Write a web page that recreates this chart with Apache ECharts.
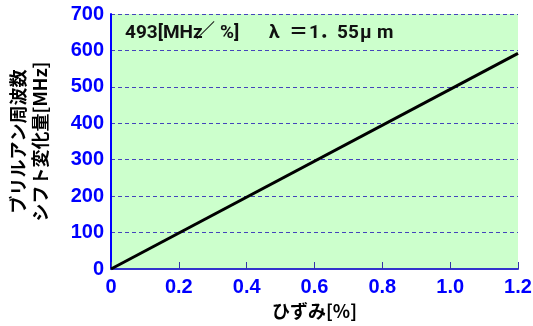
<!DOCTYPE html>
<html><head><meta charset="utf-8">
<script src="https://cdn.jsdelivr.net/npm/echarts@6/dist/echarts.min.js"></script>
<style>html,body{margin:0;padding:0;background:#fff}#c{width:533px;height:326px}</style>
</head><body><div id="c"></div>
<script>
const strain = [0, 1.2];
const shift = [0, 592];
const xTicks = [0, 0.2, 0.4, 0.6, 0.8, 1.0, 1.2];
const yTicks = [0, 100, 200, 300, 400, 500, 600, 700];
const yTitle = 'ブリルアン周波数\nシフト変化量[MHz]';
const xTitle = 'ひずみ[%]';
// annotation pieces: [text, left]
const notePieces = [['493[MHz',125],['／',196],['%]',220],['λ',269],['＝',289],['1',309],['．',319],['55',337],['μ',360],['m',377]];

const chart = echarts.init(document.getElementById('c'));
const lab = {color:'#0000ff', fontWeight:'bold', fontSize:20, fontFamily:'Liberation Sans Narrow, Arial Narrow, sans-serif'};
chart.setOption({
  animation:false,
  grid:{left:111, right:15, top:14, bottom:57, show:true, backgroundColor:'#ccffcc', borderWidth:0, outerBoundsMode:'none', containLabel:false},
  xAxis:{type:'value', min:0, max:1.2, interval:0.2,
    axisLine:{show:true, onZero:false, lineStyle:{color:'#3333cc', width:2}},
    axisTick:{show:true, inside:true, length:7, lineStyle:{color:'#3333aa', width:1}},
    splitLine:{show:false},
    axisLabel:Object.assign({margin:8, formatter:v=>{const s=xTicks.find(t=>Math.abs(t-v)<1e-9); return s===0?'0':s.toFixed(1);}}, lab),
    name:xTitle, nameLocation:'middle', nameGap:30,
    nameTextStyle:{color:'#000', fontWeight:'bold', fontSize:18, fontFamily:'Noto Sans CJK JP'}
  },
  yAxis:{type:'value', min:0, max:700, interval:100,
    axisLine:{show:true, lineStyle:{color:'#0000ff', width:2}},
    axisTick:{show:false},
    splitLine:{show:true, lineStyle:{color:'#4444bb', type:[4,3], width:1}},
    axisLabel:Object.assign({margin:7}, lab),
    name:yTitle, nameLocation:'middle', nameGap:60, nameRotate:90,
    nameTextStyle:{color:'#000', fontWeight:'bold', fontSize:18, lineHeight:22, fontFamily:'Noto Sans CJK JP'}
  },
  graphic:notePieces.map(([t,x])=>({type:'text', x:x, y:33, style:{text:t, fill:'#111', fontSize:19, fontWeight:'bold', fontFamily:'Roboto, Noto Sans CJK JP, sans-serif', verticalAlign:'middle'}})),
  series:[{type:'line', data:strain.map((x,i)=>[x, shift[i]]), showSymbol:false,
    lineStyle:{color:'#000', width:3}}]
});
</script></body></html>
